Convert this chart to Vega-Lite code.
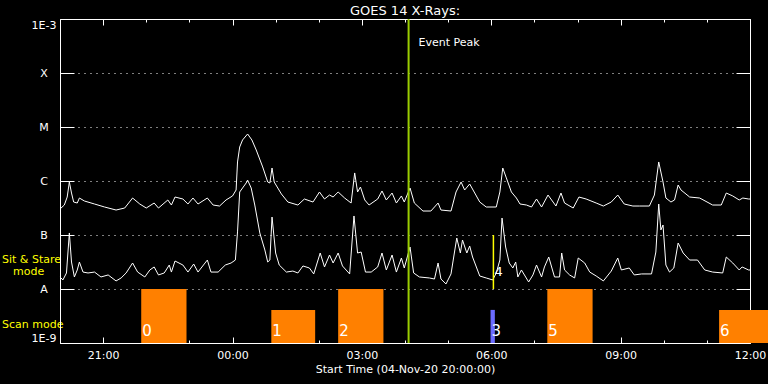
{
"$schema": "https://vega.github.io/schema/vega-lite/v6.json",
"width": 690, "height": 324,
"autosize": {"type": "none"},
"padding": {"left": 60, "top": 19, "right": 18, "bottom": 41},
"background": "black",
"config": {"view": {"stroke": null}, "font": "DejaVu Sans"},
"title": {"text": "GOES 14 X-Rays:", "color": "white", "fontSize": 13, "fontWeight": "normal", "font": "DejaVu Sans", "offset": 0, "anchor": "middle"},
"datasets": {
"scans": [
{"id": "0", "start": "2020-11-04T21:53Z", "end": "2020-11-04T22:56Z", "top": 1e-8, "kind": "scan"},
{"id": "1", "start": "2020-11-05T00:54Z", "end": "2020-11-05T01:55Z", "top": 4.1e-9, "kind": "scan"},
{"id": "2", "start": "2020-11-05T02:27Z", "end": "2020-11-05T03:30Z", "top": 1e-8, "kind": "scan"},
{"id": "3", "start": "2020-11-05T05:59Z", "end": "2020-11-05T06:05Z", "top": 4.1e-9, "kind": "other"},
{"id": "5", "start": "2020-11-05T07:18Z", "end": "2020-11-05T08:21Z", "top": 1e-8, "kind": "scan"},
{"id": "6", "start": "2020-11-05T11:17Z", "end": "2020-11-05T12:40Z", "top": 4.1e-9, "kind": "scan"}
],
"events": [{"t": "2020-11-05T04:05Z", "label": "Event Peak"}],
"stares": [{"t": "2020-11-05T06:03Z", "id": "4"}],
"xrays": [
{"band":"long","t":"2020-11-04T20:00Z","flux":3.03e-7},
{"band":"long","t":"2020-11-04T20:06Z","flux":3.59e-7},
{"band":"long","t":"2020-11-04T20:10Z","flux":5.05e-7},
{"band":"long","t":"2020-11-04T20:13Z","flux":9.58e-7},
{"band":"long","t":"2020-11-04T20:16Z","flux":5.99e-7},
{"band":"long","t":"2020-11-04T20:19Z","flux":4.08e-7},
{"band":"long","t":"2020-11-04T20:24Z","flux":3.91e-7},
{"band":"long","t":"2020-11-04T20:27Z","flux":4.84e-7},
{"band":"long","t":"2020-11-04T20:34Z","flux":4.26e-7},
{"band":"long","t":"2020-11-04T20:48Z","flux":3.75e-7},
{"band":"long","t":"2020-11-04T21:02Z","flux":3.30e-7},
{"band":"long","t":"2020-11-04T21:18Z","flux":2.90e-7},
{"band":"long","t":"2020-11-04T21:30Z","flux":3.16e-7},
{"band":"long","t":"2020-11-04T21:41Z","flux":4.84e-7},
{"band":"long","t":"2020-11-04T21:51Z","flux":3.75e-7},
{"band":"long","t":"2020-11-04T22:00Z","flux":3.16e-7},
{"band":"long","t":"2020-11-04T22:11Z","flux":3.91e-7},
{"band":"long","t":"2020-11-04T22:17Z","flux":3.16e-7},
{"band":"long","t":"2020-11-04T22:30Z","flux":4.45e-7},
{"band":"long","t":"2020-11-04T22:35Z","flux":3.59e-7},
{"band":"long","t":"2020-11-04T22:40Z","flux":5.05e-7},
{"band":"long","t":"2020-11-04T22:51Z","flux":4.64e-7},
{"band":"long","t":"2020-11-04T22:58Z","flux":3.75e-7},
{"band":"long","t":"2020-11-04T23:05Z","flux":4.84e-7},
{"band":"long","t":"2020-11-04T23:12Z","flux":3.75e-7},
{"band":"long","t":"2020-11-04T23:25Z","flux":4.84e-7},
{"band":"long","t":"2020-11-04T23:33Z","flux":3.59e-7},
{"band":"long","t":"2020-11-04T23:42Z","flux":3.44e-7},
{"band":"long","t":"2020-11-04T23:51Z","flux":4.45e-7},
{"band":"long","t":"2020-11-05T00:00Z","flux":5.28e-7},
{"band":"long","t":"2020-11-05T00:05Z","flux":6.81e-7},
{"band":"long","t":"2020-11-05T00:07Z","flux":2.25e-6},
{"band":"long","t":"2020-11-05T00:10Z","flux":4.26e-6},
{"band":"long","t":"2020-11-05T00:14Z","flux":5.75e-6},
{"band":"long","t":"2020-11-05T00:21Z","flux":7.42e-6},
{"band":"long","t":"2020-11-05T00:27Z","flux":5.75e-6},
{"band":"long","t":"2020-11-05T00:33Z","flux":3.75e-6},
{"band":"long","t":"2020-11-05T00:42Z","flux":1.82e-6},
{"band":"long","t":"2020-11-05T00:49Z","flux":9.58e-7},
{"band":"long","t":"2020-11-05T00:52Z","flux":9.18e-7},
{"band":"long","t":"2020-11-05T00:55Z","flux":1.74e-6},
{"band":"long","t":"2020-11-05T00:58Z","flux":9.58e-7},
{"band":"long","t":"2020-11-05T01:08Z","flux":5.75e-7},
{"band":"long","t":"2020-11-05T01:17Z","flux":4.08e-7},
{"band":"long","t":"2020-11-05T01:31Z","flux":3.59e-7},
{"band":"long","t":"2020-11-05T01:40Z","flux":4.64e-7},
{"band":"long","t":"2020-11-05T01:52Z","flux":4.08e-7},
{"band":"long","t":"2020-11-05T02:01Z","flux":6.26e-7},
{"band":"long","t":"2020-11-05T02:08Z","flux":4.64e-7},
{"band":"long","t":"2020-11-05T02:15Z","flux":5.50e-7},
{"band":"long","t":"2020-11-05T02:20Z","flux":5.05e-7},
{"band":"long","t":"2020-11-05T02:27Z","flux":6.26e-7},
{"band":"long","t":"2020-11-05T02:36Z","flux":4.84e-7},
{"band":"long","t":"2020-11-05T02:45Z","flux":3.91e-7},
{"band":"long","t":"2020-11-05T02:50Z","flux":1.41e-6},
{"band":"long","t":"2020-11-05T02:54Z","flux":6.26e-7},
{"band":"long","t":"2020-11-05T02:58Z","flux":7.74e-7},
{"band":"long","t":"2020-11-05T03:04Z","flux":4.45e-7},
{"band":"long","t":"2020-11-05T03:10Z","flux":3.59e-7},
{"band":"long","t":"2020-11-05T03:22Z","flux":4.64e-7},
{"band":"long","t":"2020-11-05T03:28Z","flux":6.53e-7},
{"band":"long","t":"2020-11-05T03:34Z","flux":4.45e-7},
{"band":"long","t":"2020-11-05T03:42Z","flux":5.99e-7},
{"band":"long","t":"2020-11-05T03:48Z","flux":3.91e-7},
{"band":"long","t":"2020-11-05T03:55Z","flux":5.28e-7},
{"band":"long","t":"2020-11-05T03:59Z","flux":4.08e-7},
{"band":"long","t":"2020-11-05T04:07Z","flux":7.42e-7},
{"band":"long","t":"2020-11-05T04:13Z","flux":3.91e-7},
{"band":"long","t":"2020-11-05T04:25Z","flux":2.78e-7},
{"band":"long","t":"2020-11-05T04:36Z","flux":2.78e-7},
{"band":"long","t":"2020-11-05T04:46Z","flux":3.91e-7},
{"band":"long","t":"2020-11-05T04:50Z","flux":2.90e-7},
{"band":"long","t":"2020-11-05T05:04Z","flux":2.78e-7},
{"band":"long","t":"2020-11-05T05:11Z","flux":6.26e-7},
{"band":"long","t":"2020-11-05T05:18Z","flux":9.58e-7},
{"band":"long","t":"2020-11-05T05:23Z","flux":6.81e-7},
{"band":"long","t":"2020-11-05T05:30Z","flux":8.80e-7},
{"band":"long","t":"2020-11-05T05:44Z","flux":4.08e-7},
{"band":"long","t":"2020-11-05T05:53Z","flux":3.30e-7},
{"band":"long","t":"2020-11-05T06:07Z","flux":3.30e-7},
{"band":"long","t":"2020-11-05T06:12Z","flux":6.26e-7},
{"band":"long","t":"2020-11-05T06:16Z","flux":1.74e-6},
{"band":"long","t":"2020-11-05T06:21Z","flux":1.14e-6},
{"band":"long","t":"2020-11-05T06:28Z","flux":6.26e-7},
{"band":"long","t":"2020-11-05T06:35Z","flux":4.84e-7},
{"band":"long","t":"2020-11-05T06:40Z","flux":3.75e-7},
{"band":"long","t":"2020-11-05T06:49Z","flux":3.59e-7},
{"band":"long","t":"2020-11-05T06:56Z","flux":3.30e-7},
{"band":"long","t":"2020-11-05T07:03Z","flux":4.64e-7},
{"band":"long","t":"2020-11-05T07:10Z","flux":3.30e-7},
{"band":"long","t":"2020-11-05T07:19Z","flux":5.50e-7},
{"band":"long","t":"2020-11-05T07:30Z","flux":3.44e-7},
{"band":"long","t":"2020-11-05T07:37Z","flux":5.99e-7},
{"band":"long","t":"2020-11-05T07:42Z","flux":3.91e-7},
{"band":"long","t":"2020-11-05T07:54Z","flux":3.16e-7},
{"band":"long","t":"2020-11-05T08:02Z","flux":5.05e-7},
{"band":"long","t":"2020-11-05T08:12Z","flux":4.64e-7},
{"band":"long","t":"2020-11-05T08:26Z","flux":3.91e-7},
{"band":"long","t":"2020-11-05T08:36Z","flux":3.44e-7},
{"band":"long","t":"2020-11-05T08:47Z","flux":4.08e-7},
{"band":"long","t":"2020-11-05T08:56Z","flux":5.50e-7},
{"band":"long","t":"2020-11-05T09:05Z","flux":3.75e-7},
{"band":"long","t":"2020-11-05T09:17Z","flux":3.44e-7},
{"band":"long","t":"2020-11-05T09:26Z","flux":3.44e-7},
{"band":"long","t":"2020-11-05T09:40Z","flux":3.44e-7},
{"band":"long","t":"2020-11-05T09:47Z","flux":5.50e-7},
{"band":"long","t":"2020-11-05T09:53Z","flux":2.25e-6},
{"band":"long","t":"2020-11-05T09:59Z","flux":9.58e-7},
{"band":"long","t":"2020-11-05T10:03Z","flux":4.84e-7},
{"band":"long","t":"2020-11-05T10:10Z","flux":4.08e-7},
{"band":"long","t":"2020-11-05T10:15Z","flux":4.45e-7},
{"band":"long","t":"2020-11-05T10:20Z","flux":8.43e-7},
{"band":"long","t":"2020-11-05T10:24Z","flux":6.81e-7},
{"band":"long","t":"2020-11-05T10:36Z","flux":5.05e-7},
{"band":"long","t":"2020-11-05T10:50Z","flux":4.84e-7},
{"band":"long","t":"2020-11-05T11:08Z","flux":3.59e-7},
{"band":"long","t":"2020-11-05T11:20Z","flux":3.59e-7},
{"band":"long","t":"2020-11-05T11:27Z","flux":5.99e-7},
{"band":"long","t":"2020-11-05T11:36Z","flux":5.28e-7},
{"band":"long","t":"2020-11-05T11:45Z","flux":4.45e-7},
{"band":"long","t":"2020-11-05T11:50Z","flux":4.84e-7},
{"band":"long","t":"2020-11-05T11:58Z","flux":4.64e-7},
{"band":"long","t":"2020-11-05T12:00Z","flux":4.64e-7},
{"band":"short","t":"2020-11-04T20:00Z","flux":1.67e-8},
{"band":"short","t":"2020-11-04T20:04Z","flux":1.47e-8},
{"band":"short","t":"2020-11-04T20:09Z","flux":1.98e-8},
{"band":"short","t":"2020-11-04T20:13Z","flux":1.09e-7},
{"band":"short","t":"2020-11-04T20:16Z","flux":3.16e-8},
{"band":"short","t":"2020-11-04T20:20Z","flux":1.67e-8},
{"band":"short","t":"2020-11-04T20:24Z","flux":2.25e-8},
{"band":"short","t":"2020-11-04T20:27Z","flux":3.16e-8},
{"band":"short","t":"2020-11-04T20:32Z","flux":2.06e-8},
{"band":"short","t":"2020-11-04T20:39Z","flux":1.98e-8},
{"band":"short","t":"2020-11-04T20:48Z","flux":2.06e-8},
{"band":"short","t":"2020-11-04T20:57Z","flux":1.67e-8},
{"band":"short","t":"2020-11-04T21:07Z","flux":1.82e-8},
{"band":"short","t":"2020-11-04T21:18Z","flux":1.41e-8},
{"band":"short","t":"2020-11-04T21:25Z","flux":1.60e-8},
{"band":"short","t":"2020-11-04T21:32Z","flux":1.98e-8},
{"band":"short","t":"2020-11-04T21:41Z","flux":3.03e-8},
{"band":"short","t":"2020-11-04T21:48Z","flux":2.06e-8},
{"band":"short","t":"2020-11-04T21:58Z","flux":1.67e-8},
{"band":"short","t":"2020-11-04T22:05Z","flux":2.25e-8},
{"band":"short","t":"2020-11-04T22:11Z","flux":2.56e-8},
{"band":"short","t":"2020-11-04T22:17Z","flux":1.82e-8},
{"band":"short","t":"2020-11-04T22:25Z","flux":1.98e-8},
{"band":"short","t":"2020-11-04T22:32Z","flux":2.78e-8},
{"band":"short","t":"2020-11-04T22:35Z","flux":2.06e-8},
{"band":"short","t":"2020-11-04T22:40Z","flux":3.30e-8},
{"band":"short","t":"2020-11-04T22:51Z","flux":2.78e-8},
{"band":"short","t":"2020-11-04T22:58Z","flux":2.06e-8},
{"band":"short","t":"2020-11-04T23:06Z","flux":2.90e-8},
{"band":"short","t":"2020-11-04T23:12Z","flux":2.06e-8},
{"band":"short","t":"2020-11-04T23:25Z","flux":3.44e-8},
{"band":"short","t":"2020-11-04T23:30Z","flux":2.06e-8},
{"band":"short","t":"2020-11-04T23:40Z","flux":2.06e-8},
{"band":"short","t":"2020-11-04T23:50Z","flux":2.78e-8},
{"band":"short","t":"2020-11-04T23:58Z","flux":3.03e-8},
{"band":"short","t":"2020-11-05T00:04Z","flux":3.44e-8},
{"band":"short","t":"2020-11-05T00:07Z","flux":1.14e-7},
{"band":"short","t":"2020-11-05T00:10Z","flux":6.26e-7},
{"band":"short","t":"2020-11-05T00:14Z","flux":7.42e-7},
{"band":"short","t":"2020-11-05T00:19Z","flux":9.18e-7},
{"band":"short","t":"2020-11-05T00:21Z","flux":1.04e-6},
{"band":"short","t":"2020-11-05T00:26Z","flux":7.42e-7},
{"band":"short","t":"2020-11-05T00:31Z","flux":3.59e-7},
{"band":"short","t":"2020-11-05T00:38Z","flux":1.09e-7},
{"band":"short","t":"2020-11-05T00:45Z","flux":5.28e-8},
{"band":"short","t":"2020-11-05T00:49Z","flux":3.16e-8},
{"band":"short","t":"2020-11-05T00:52Z","flux":3.44e-8},
{"band":"short","t":"2020-11-05T00:55Z","flux":2.15e-7},
{"band":"short","t":"2020-11-05T01:00Z","flux":4.64e-8},
{"band":"short","t":"2020-11-05T01:05Z","flux":2.78e-8},
{"band":"short","t":"2020-11-05T01:15Z","flux":2.06e-8},
{"band":"short","t":"2020-11-05T01:24Z","flux":2.15e-8},
{"band":"short","t":"2020-11-05T01:31Z","flux":1.98e-8},
{"band":"short","t":"2020-11-05T01:38Z","flux":2.67e-8},
{"band":"short","t":"2020-11-05T01:47Z","flux":2.45e-8},
{"band":"short","t":"2020-11-05T01:53Z","flux":1.90e-8},
{"band":"short","t":"2020-11-05T02:02Z","flux":4.64e-8},
{"band":"short","t":"2020-11-05T02:08Z","flux":2.56e-8},
{"band":"short","t":"2020-11-05T02:15Z","flux":4.26e-8},
{"band":"short","t":"2020-11-05T02:20Z","flux":3.03e-8},
{"band":"short","t":"2020-11-05T02:27Z","flux":4.64e-8},
{"band":"short","t":"2020-11-05T02:33Z","flux":2.67e-8},
{"band":"short","t":"2020-11-05T02:43Z","flux":1.90e-8},
{"band":"short","t":"2020-11-05T02:49Z","flux":2.25e-7},
{"band":"short","t":"2020-11-05T02:54Z","flux":4.64e-8},
{"band":"short","t":"2020-11-05T02:59Z","flux":4.84e-8},
{"band":"short","t":"2020-11-05T03:05Z","flux":2.06e-8},
{"band":"short","t":"2020-11-05T03:13Z","flux":2.06e-8},
{"band":"short","t":"2020-11-05T03:22Z","flux":2.56e-8},
{"band":"short","t":"2020-11-05T03:28Z","flux":4.64e-8},
{"band":"short","t":"2020-11-05T03:34Z","flux":2.25e-8},
{"band":"short","t":"2020-11-05T03:42Z","flux":4.26e-8},
{"band":"short","t":"2020-11-05T03:48Z","flux":2.06e-8},
{"band":"short","t":"2020-11-05T03:55Z","flux":3.75e-8},
{"band":"short","t":"2020-11-05T03:59Z","flux":2.45e-8},
{"band":"short","t":"2020-11-05T04:07Z","flux":5.99e-8},
{"band":"short","t":"2020-11-05T04:12Z","flux":1.98e-8},
{"band":"short","t":"2020-11-05T04:20Z","flux":1.67e-8},
{"band":"short","t":"2020-11-05T04:34Z","flux":1.60e-8},
{"band":"short","t":"2020-11-05T04:41Z","flux":1.53e-8},
{"band":"short","t":"2020-11-05T04:46Z","flux":3.03e-8},
{"band":"short","t":"2020-11-05T04:50Z","flux":1.53e-8},
{"band":"short","t":"2020-11-05T04:57Z","flux":1.24e-8},
{"band":"short","t":"2020-11-05T05:04Z","flux":1.90e-8},
{"band":"short","t":"2020-11-05T05:12Z","flux":8.80e-8},
{"band":"short","t":"2020-11-05T05:17Z","flux":4.64e-8},
{"band":"short","t":"2020-11-05T05:20Z","flux":8.08e-8},
{"band":"short","t":"2020-11-05T05:26Z","flux":4.64e-8},
{"band":"short","t":"2020-11-05T05:30Z","flux":6.26e-8},
{"band":"short","t":"2020-11-05T05:34Z","flux":3.91e-8},
{"band":"short","t":"2020-11-05T05:44Z","flux":1.74e-8},
{"band":"short","t":"2020-11-05T05:53Z","flux":1.60e-8},
{"band":"short","t":"2020-11-05T06:02Z","flux":1.47e-8},
{"band":"short","t":"2020-11-05T06:07Z","flux":1.98e-8},
{"band":"short","t":"2020-11-05T06:12Z","flux":3.44e-8},
{"band":"short","t":"2020-11-05T06:15Z","flux":2.06e-7},
{"band":"short","t":"2020-11-05T06:20Z","flux":5.99e-8},
{"band":"short","t":"2020-11-05T06:25Z","flux":3.03e-8},
{"band":"short","t":"2020-11-05T06:30Z","flux":2.45e-8},
{"band":"short","t":"2020-11-05T06:34Z","flux":3.16e-8},
{"band":"short","t":"2020-11-05T06:37Z","flux":1.67e-8},
{"band":"short","t":"2020-11-05T06:42Z","flux":2.25e-8},
{"band":"short","t":"2020-11-05T06:52Z","flux":1.35e-8},
{"band":"short","t":"2020-11-05T06:58Z","flux":1.82e-8},
{"band":"short","t":"2020-11-05T07:03Z","flux":2.78e-8},
{"band":"short","t":"2020-11-05T07:10Z","flux":1.67e-8},
{"band":"short","t":"2020-11-05T07:14Z","flux":2.56e-8},
{"band":"short","t":"2020-11-05T07:20Z","flux":3.91e-8},
{"band":"short","t":"2020-11-05T07:28Z","flux":1.67e-8},
{"band":"short","t":"2020-11-05T07:35Z","flux":1.67e-8},
{"band":"short","t":"2020-11-05T07:38Z","flux":4.64e-8},
{"band":"short","t":"2020-11-05T07:42Z","flux":2.25e-8},
{"band":"short","t":"2020-11-05T07:49Z","flux":1.82e-8},
{"band":"short","t":"2020-11-05T07:56Z","flux":1.60e-8},
{"band":"short","t":"2020-11-05T08:01Z","flux":3.75e-8},
{"band":"short","t":"2020-11-05T08:10Z","flux":3.03e-8},
{"band":"short","t":"2020-11-05T08:17Z","flux":2.06e-8},
{"band":"short","t":"2020-11-05T08:26Z","flux":1.74e-8},
{"band":"short","t":"2020-11-05T08:36Z","flux":1.41e-8},
{"band":"short","t":"2020-11-05T08:47Z","flux":2.15e-8},
{"band":"short","t":"2020-11-05T08:56Z","flux":3.75e-8},
{"band":"short","t":"2020-11-05T09:01Z","flux":2.25e-8},
{"band":"short","t":"2020-11-05T09:12Z","flux":2.45e-8},
{"band":"short","t":"2020-11-05T09:19Z","flux":1.82e-8},
{"band":"short","t":"2020-11-05T09:29Z","flux":1.90e-8},
{"band":"short","t":"2020-11-05T09:43Z","flux":1.90e-8},
{"band":"short","t":"2020-11-05T09:49Z","flux":4.84e-8},
{"band":"short","t":"2020-11-05T09:53Z","flux":3.75e-7},
{"band":"short","t":"2020-11-05T09:56Z","flux":1.24e-7},
{"band":"short","t":"2020-11-05T09:59Z","flux":1.53e-7},
{"band":"short","t":"2020-11-05T10:03Z","flux":2.78e-8},
{"band":"short","t":"2020-11-05T10:08Z","flux":2.06e-8},
{"band":"short","t":"2020-11-05T10:14Z","flux":2.45e-8},
{"band":"short","t":"2020-11-05T10:20Z","flux":7.11e-8},
{"band":"short","t":"2020-11-05T10:27Z","flux":4.64e-8},
{"band":"short","t":"2020-11-05T10:36Z","flux":3.44e-8},
{"band":"short","t":"2020-11-05T10:47Z","flux":3.44e-8},
{"band":"short","t":"2020-11-05T10:57Z","flux":2.25e-8},
{"band":"short","t":"2020-11-05T11:08Z","flux":2.06e-8},
{"band":"short","t":"2020-11-05T11:22Z","flux":1.98e-8},
{"band":"short","t":"2020-11-05T11:27Z","flux":3.91e-8},
{"band":"short","t":"2020-11-05T11:36Z","flux":3.03e-8},
{"band":"short","t":"2020-11-05T11:45Z","flux":2.25e-8},
{"band":"short","t":"2020-11-05T11:49Z","flux":2.56e-8},
{"band":"short","t":"2020-11-05T11:58Z","flux":2.25e-8},
{"band":"short","t":"2020-11-05T12:00Z","flux":2.25e-8}
]
},
"layer": [
{
"data": {"name": "scans"},
"mark": {"type": "rect"},
"encoding": {
"x": {"field": "start", "type": "temporal",
"scale": {"type": "utc", "nice": false, "domain": [1604520000000, 1604577600000]},
"axis": {"orient": "top", "title": null, "labels": false, "grid": false, "domainColor": "white", "tickColor": "white", "values": [1604523600000, 1604534400000, 1604545200000, 1604556000000, 1604566800000, 1604577600000], "tickSize": -6}},
"x2": {"field": "end"},
"y": {"field": "top", "type": "quantitative",
"scale": {"type": "log", "domain": [1e-9, 1e-3], "nice": false},
"axis": {"orient": "right", "title": null, "labels": false, "grid": false, "domainColor": "white", "tickColor": "white", "tickSize": -14, "values": [1e-9, 1e-8, 1e-7, 1e-6, 1e-5, 1e-4, 1e-3]}},
"y2": {"datum": 1e-9},
"color": {"field": "kind", "type": "nominal", "scale": {"domain": ["scan", "other"], "range": ["#ff8000", "#6b6bff"]}, "legend": null}
}
},
{
"data": {"name": "scans"},
"mark": {"type": "text", "align": "left", "baseline": "bottom", "dx": 1, "dy": -4, "fontSize": 15, "color": "white"},
"encoding": {
"x": {"field": "start", "type": "temporal",
"axis": {"orient": "bottom", "title": null, "labels": false, "grid": false, "domain": false, "tickColor": "white", "values": [1604520000000, 1604523600000, 1604527200000, 1604530800000, 1604534400000, 1604538000000, 1604541600000, 1604545200000, 1604548800000, 1604552400000, 1604556000000, 1604559600000, 1604563200000, 1604566800000, 1604570400000, 1604574000000, 1604577600000], "tickSize": -3}},
"y": {"datum": 1e-9, "type": "quantitative",
"axis": {"orient": "left", "title": null, "values": [3.07e-8, 1.9e-9], "labelExpr": "datum.value > 1e-8 ? 'Sit & Stare' : 'Scan mode'", "labelColor": "#ffff00", "labelFontSize": 11, "labelAlign": "left", "labelBaseline": "alphabetic", "labelPadding": 58.5, "ticks": false, "domain": false, "grid": false, "labelOverlap": false, "labelBound": false, "labelFlush": false}},
"text": {"field": "id"}
}
},
{
"data": {"name": "xrays"},
"mark": {"type": "line", "color": "white", "strokeWidth": 1},
"encoding": {
"x": {"field": "t", "type": "temporal",
"scale": {"type": "utc", "nice": false, "domain": [1604520000000, 1604577600000]},
"axis": {"orient": "bottom", "title": "Start Time (04-Nov-20 20:00:00)", "titleColor": "white", "titleFontSize": 11, "titleFontWeight": "normal", "titlePadding": 3,
"labelColor": "white", "labelFontSize": 11, "labelPadding": 12, "labelOverlap": false, "labelFlush": false,
"labelExpr": "utcFormat(datum.value, '%H:%M')",
"grid": false, "domainColor": "white", "tickColor": "white", "values": [1604523600000, 1604534400000, 1604545200000, 1604556000000, 1604566800000, 1604577600000], "tickSize": -6}},
"y": {"field": "flux", "type": "quantitative",
"scale": {"type": "log", "domain": [1e-9, 1e-3], "nice": false},
"axis": {"orient": "left", "title": null,
"values": [1e-9, 1e-8, 1e-7, 1e-6, 1e-5, 1e-4, 1e-3],
"labelExpr": "datum.value < 3e-9 ? '1E-9' : datum.value < 3e-8 ? 'A' : datum.value < 3e-7 ? 'B' : datum.value < 3e-6 ? 'C' : datum.value < 3e-5 ? 'M' : datum.value < 3e-4 ? 'X' : '1E-3'",
"labelColor": "white", "labelAlign": "center", "labelFontSize": 11, "labelPadding": 30.5,
"tickSize": -14, "tickColor": "white", "domainColor": "white",
"grid": true, "gridColor": "white", "gridDash": [1, 5],
"labelFlush": true, "labelOverlap": false, "labelBound": false}},
"detail": {"field": "band"}
}
},
{
"data": {"name": "events"},
"mark": {"type": "rule", "color": "#9acd00", "strokeWidth": 2},
"encoding": {"x": {"field": "t", "type": "temporal",
"axis": {"orient": "top", "title": null, "labels": false, "grid": false, "domain": false, "tickColor": "white", "values": [1604520000000, 1604523600000, 1604527200000, 1604530800000, 1604534400000, 1604538000000, 1604541600000, 1604545200000, 1604548800000, 1604552400000, 1604556000000, 1604559600000, 1604563200000, 1604566800000, 1604570400000, 1604574000000, 1604577600000], "tickSize": -3}}}
},
{
"data": {"name": "events"},
"mark": {"type": "text", "align": "left", "baseline": "middle", "dx": 10, "fontSize": 11, "color": "white"},
"encoding": {
"x": {"field": "t", "type": "temporal", "axis": null},
"y": {"datum": 3.6e-4, "type": "quantitative",
"axis": {"orient": "left", "title": null, "values": [1.82e-8], "labelExpr": "'mode'", "labelColor": "#ffff00", "labelFontSize": 11, "labelAlign": "left", "labelBaseline": "alphabetic", "labelPadding": 47.5, "ticks": false, "domain": false, "grid": false, "labelOverlap": false, "labelBound": false, "labelFlush": false}},
"text": {"field": "label"}
}
},
{
"data": {"name": "stares"},
"mark": {"type": "rule", "color": "#ffff00", "strokeWidth": 1.5},
"encoding": {
"x": {"field": "t", "type": "temporal", "axis": null},
"y": {"datum": 1e-8, "type": "quantitative", "axis": null},
"y2": {"datum": 1e-7}
}
},
{
"data": {"name": "stares"},
"mark": {"type": "text", "align": "left", "baseline": "bottom", "dx": 1, "dy": -10, "fontSize": 13, "color": "white"},
"encoding": {
"x": {"field": "t", "type": "temporal", "axis": null},
"y": {"datum": 1e-8, "type": "quantitative", "axis": null},
"text": {"field": "id"}
}
}
],
"resolve": {"axis": {"x": "independent", "y": "independent"}}
}
